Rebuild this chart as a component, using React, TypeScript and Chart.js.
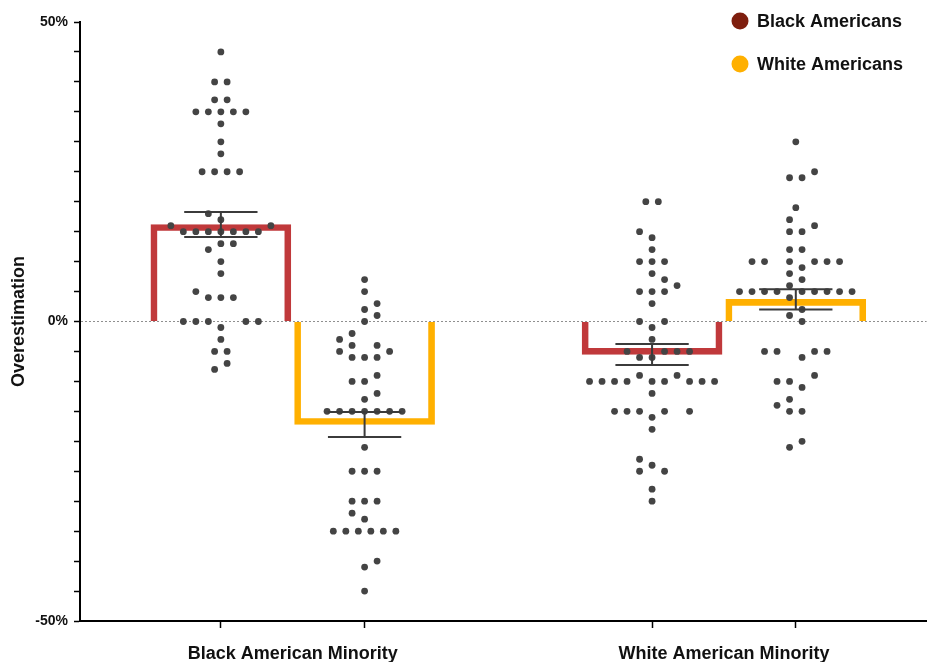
import React, { useEffect, useRef } from 'react';
import { Chart, registerables } from 'chart.js';

Chart.register(...registerables);

// ---------- data ----------
const groupLabels = ['Black American Minority', 'White American Minority'];
const groupLabelPositions = [0.5, 3.5];
const xTickPositions = [0, 0.5, 1, 3, 3.5, 4];
const seriesNames = ['Black Americans', 'White Americans'];

const blackBarPositions = [0, 3];
const whiteBarPositions = [1, 4];
const blackBarMeans = [16.2, -5.5];
const whiteBarMeans = [-17.2, 3.7];
const blackBarSems = [2.1, 1.75];
const whiteBarSems = [2.1, 1.7];

const yTickLabelValues = [50, 0, -50];

// [value (%), swarm slot]
const dotsBlackInBlackMinority: [number, number][] = [
  [45, 0], [40, -0.5], [40, 0.5], [37, -0.5], [37, 0.5],
  [35, -2], [35, -1], [35, 0], [35, 1], [35, 2],
  [33, 0], [30, 0], [28, 0],
  [25, -1.5], [25, -0.5], [25, 0.5], [25, 1.5],
  [18, -1], [17, 0], [16, -4], [16, 4],
  [15, -3], [15, -2], [15, -1], [15, 0], [15, 1], [15, 2], [15, 3],
  [13, 0], [13, 1], [12, -1], [10, 0], [8, 0], [5, -2],
  [4, -1], [4, 0], [4, 1],
  [0, -3], [0, -2], [0, -1], [0, 2], [0, 3],
  [-1, 0], [-3, 0], [-5, -0.5], [-5, 0.5], [-7, 0.5], [-8, -0.5],
];
const dotsWhiteInBlackMinority: [number, number][] = [
  [7, 0], [5, 0], [3, 1], [2, 0], [1, 1], [0, 0],
  [-2, -1], [-3, -2], [-4, -1], [-4, 1], [-5, -2], [-5, 2],
  [-6, -1], [-6, 0], [-6, 1], [-9, 1], [-10, -1], [-10, 0], [-12, 1], [-13, 0],
  [-15, -3], [-15, -2], [-15, -1], [-15, 0], [-15, 1], [-15, 2], [-15, 3],
  [-21, 0], [-25, -1], [-25, 0], [-25, 1], [-30, -1], [-30, 0], [-30, 1],
  [-32, -1], [-33, 0],
  [-35, -2.5], [-35, -1.5], [-35, -0.5], [-35, 0.5], [-35, 1.5], [-35, 2.5],
  [-40, 1], [-41, 0], [-45, 0],
];
const dotsBlackInWhiteMinority: [number, number][] = [
  [20, -0.5], [20, 0.5], [15, -1], [14, 0], [12, 0],
  [10, -1], [10, 0], [10, 1], [8, 0], [7, 1], [6, 2],
  [5, -1], [5, 0], [5, 1], [3, 0], [0, -1], [0, 1], [-1, 0],
  [-3, 0], [-5, -2], [-5, 1], [-5, 2], [-5, 3], [-6, -1], [-6, 0],
  [-9, -1], [-9, 2],
  [-10, -5], [-10, -4], [-10, -3], [-10, -2], [-10, 0], [-10, 1], [-10, 3], [-10, 4], [-10, 5],
  [-12, 0], [-15, -3], [-15, -2], [-15, -1], [-15, 1], [-15, 3],
  [-16, 0], [-18, 0], [-23, -1], [-24, 0], [-25, -1], [-25, 1], [-28, 0], [-30, 0],
];
const dotsWhiteInWhiteMinority: [number, number][] = [
  [30, 0], [25, 1.5], [24, -0.5], [24, 0.5], [19, 0], [17, -0.5], [16, 1.5],
  [15, -0.5], [15, 0.5], [12, -0.5], [12, 0.5],
  [10, -3.5], [10, -2.5], [10, -0.5], [10, 1.5], [10, 2.5], [10, 3.5],
  [9, 0.5], [8, -0.5], [7, 0.5], [6, -0.5],
  [5, -4.5], [5, -3.5], [5, -2.5], [5, -1.5], [5, 0.5], [5, 1.5], [5, 2.5], [5, 3.5], [5, 4.5],
  [4, -0.5], [2, 0.5], [1, -0.5], [0, 0.5],
  [-5, -2.5], [-5, -1.5], [-5, 1.5], [-5, 2.5], [-6, 0.5], [-9, 1.5],
  [-10, -1.5], [-10, -0.5], [-11, 0.5], [-13, -0.5], [-14, -1.5],
  [-15, -0.5], [-15, 0.5], [-20, 0.5], [-21, -0.5],
];

const dotGroups = [
  { center: 0, dots: dotsBlackInBlackMinority },
  { center: 1, dots: dotsWhiteInBlackMinority },
  { center: 3, dots: dotsBlackInWhiteMinority },
  { center: 4, dots: dotsWhiteInWhiteMinority },
];

// ---------- styles ----------
const FONT = '"Liberation Sans", Arial, Helvetica, sans-serif';
const RED = '#C0393B';
const YELLOW = '#FFB000';
const LEGEND_COLORS = ['#7E1E0E', '#FFB000'];
const DOT = '#444444';
const SLOT = 0.087;
const CAP_HALF = 0.255;

const errorBarPlugin = {
  id: 'errorBars',
  afterDatasetsDraw(chart: any) {
    const { ctx } = chart;
    const x = chart.scales.x;
    const y = chart.scales.y;
    const bars = [
      ...blackBarPositions.map((p, i) => ({ p, m: blackBarMeans[i], s: blackBarSems[i] })),
      ...whiteBarPositions.map((p, i) => ({ p, m: whiteBarMeans[i], s: whiteBarSems[i] })),
    ];
    ctx.save();
    ctx.strokeStyle = '#3b3b3b';
    ctx.lineWidth = 2;
    bars.forEach(({ p, m, s }) => {
      const px = x.getPixelForValue(p);
      const hw = x.getPixelForValue(p + CAP_HALF) - px;
      const yT = y.getPixelForValue(m + s);
      const yB = y.getPixelForValue(m - s);
      ctx.beginPath();
      ctx.moveTo(px, yT);
      ctx.lineTo(px, yB);
      ctx.moveTo(px - hw, yT);
      ctx.lineTo(px + hw, yT);
      ctx.moveTo(px - hw, yB);
      ctx.lineTo(px + hw, yB);
      ctx.stroke();
    });
    ctx.restore();
  },
};

const legendPlugin = {
  id: 'cornerLegend',
  afterDraw(chart: any) {
    const { ctx } = chart;
    ctx.save();
    ctx.font = `bold 18px ${FONT}`;
    ctx.textBaseline = 'middle';
    ctx.textAlign = 'left';
    seriesNames.forEach((name, i) => {
      const cx = chart.width - 190;
      const cy = 21 + i * 43;
      ctx.fillStyle = LEGEND_COLORS[i];
      ctx.beginPath();
      ctx.arc(cx, cy, 8.5, 0, Math.PI * 2);
      ctx.fill();
      ctx.fillStyle = '#111';
      ctx.fillText(name, cx + 17, cy + 1);
    });
    ctx.restore();
  },
};

export default function App() {
  const canvasRef = useRef<HTMLCanvasElement | null>(null);

  useEffect(() => {
    if (!canvasRef.current) return;
    const scatterSets = dotGroups.map((g, gi) => ({
      type: 'scatter' as const,
      label: 'dots' + gi,
      data: g.dots.map(([v, s]) => ({ x: g.center + s * SLOT, y: v })),
      backgroundColor: DOT,
      borderWidth: 0,
      pointRadius: 3.4,
      pointHoverRadius: 3.4,
      order: 0,
    }));
    const chart = new Chart(canvasRef.current, {
      type: 'bar',
      data: {
        datasets: [
          ...scatterSets,
          {
            type: 'bar',
            label: seriesNames[0],
            data: blackBarPositions.map((p, i) => ({ x: p, y: blackBarMeans[i] })),
            backgroundColor: 'rgba(0,0,0,0)',
            borderColor: RED,
            borderWidth: 6,
            borderSkipped: 'start',
            barThickness: 140,
            grouped: false,
            order: 2,
          },
          {
            type: 'bar',
            label: seriesNames[1],
            data: whiteBarPositions.map((p, i) => ({ x: p, y: whiteBarMeans[i] })),
            backgroundColor: 'rgba(0,0,0,0)',
            borderColor: YELLOW,
            borderWidth: 6,
            borderSkipped: 'start',
            barThickness: 140,
            grouped: false,
            order: 2,
          },
        ] as any,
      },
      options: {
        responsive: false,
        animation: false,
        devicePixelRatio: 1,
        layout: { padding: { top: 22, left: 0, right: 0, bottom: 0 } },
        plugins: { legend: { display: false }, tooltip: { enabled: false } },
        scales: {
          x: {
            type: 'linear',
            min: -0.98,
            max: 4.91,
            offset: false,
            afterBuildTicks: (s: any) => {
              s.ticks = xTickPositions.map((v) => ({ value: v }));
            },
            afterFit: (s: any) => {
              s.height = 41;
            },
            ticks: {
              autoSkip: false,
              maxRotation: 0,
              minRotation: 0,
              padding: 15,
              color: '#111',
              font: { family: FONT, size: 18, weight: 'bold' },
              callback: (v: any) => {
                const i = groupLabelPositions.indexOf(Number(v));
                return i >= 0 ? groupLabels[i] : '';
              },
            },
            grid: {
              offset: false,
              drawOnChartArea: false,
              tickLength: 7,
              tickWidth: 1.5,
              tickColor: (c: any) =>
                c.tick && groupLabelPositions.includes(c.tick.value) ? 'rgba(0,0,0,0)' : '#000',
            },
            border: { color: '#000', width: 2 },
          },
          y: {
            type: 'linear',
            min: -50,
            max: 50,
            afterFit: (s: any) => {
              s.width = 80;
            },
            ticks: {
              stepSize: 5,
              autoSkip: false,
              padding: 6,
              color: '#111',
              font: { family: FONT, size: 14, weight: 'bold' },
              callback: (v: any) => (yTickLabelValues.includes(Number(v)) ? `${v}%` : ''),
            },
            grid: {
              drawOnChartArea: true,
              color: (c: any) => (c.tick && c.tick.value === 0 ? '#8f8f8f' : 'rgba(0,0,0,0)'),
              lineWidth: 1,
              tickColor: '#000',
              tickLength: 6,
              tickWidth: 1.5,
            },
            border: { color: '#000', width: 2, dash: [2, 2] },
            title: {
              display: true,
              text: 'Overestimation',
              color: '#111',
              font: { family: FONT, size: 18, weight: 'bold' },
              padding: { top: 8, bottom: 0 },
            },
          },
        },
      } as any,
      plugins: [errorBarPlugin, legendPlugin],
    });
    return () => chart.destroy();
  }, []);

  return (
    <div style={{ position: 'absolute', left: 0, top: 0, width: 930, height: 662, background: '#fff' }}>
      <canvas ref={canvasRef} width={930} height={662} style={{ display: 'block' }} />
    </div>
  );
}
